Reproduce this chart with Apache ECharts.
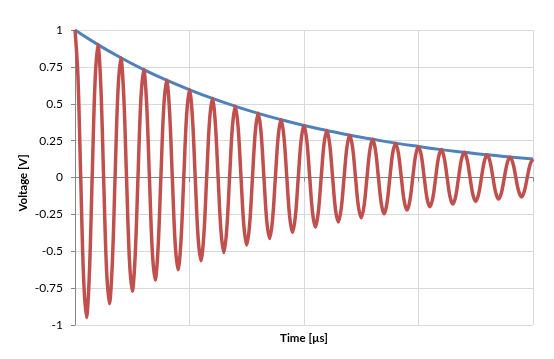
<!DOCTYPE html>
<html>
<head>
<meta charset="utf-8">
<script src="https://cdn.jsdelivr.net/npm/echarts@6/dist/echarts.min.js"></script>
<style>
html,body{margin:0;padding:0;background:#fff;}
#chart{width:554px;height:359px;}
</style>
</head>
<body>
<div id="chart"></div>
<script>
// Sample times (eighth of a period) and measured voltage of the damped oscillation
const time = [
  0,0.025,0.05,0.075,0.1,0.125,0.15,0.175,0.2,0.225,0.25,0.275,0.3,0.325,0.35,0.375,
  0.4,0.425,0.45,0.475,0.5,0.525,0.55,0.575,0.6,0.625,0.65,0.675,0.7,0.725,0.75,0.775,
  0.8,0.825,0.85,0.875,0.9,0.925,0.95,0.975,1,1.025,1.05,1.075,1.1,1.125,1.15,1.175,
  1.2,1.225,1.25,1.275,1.3,1.325,1.35,1.375,1.4,1.425,1.45,1.475,1.5,1.525,1.55,1.575,
  1.6,1.625,1.65,1.675,1.7,1.725,1.75,1.775,1.8,1.825,1.85,1.875,1.9,1.925,1.95,1.975,
  2,2.025,2.05,2.075,2.1,2.125,2.15,2.175,2.2,2.225,2.25,2.275,2.3,2.325,2.35,2.375,
  2.4,2.425,2.45,2.475,2.5,2.525,2.55,2.575,2.6,2.625,2.65,2.675,2.7,2.725,2.75,2.775,
  2.8,2.825,2.85,2.875,2.9,2.925,2.95,2.975,3,3.025,3.05,3.075,3.1,3.125,3.15,3.175,
  3.2,3.225,3.25,3.275,3.3,3.325,3.35,3.375,3.4,3.425,3.45,3.475,3.5,3.525,3.55,3.575,
  3.6,3.625,3.65,3.675,3.7,3.725,3.75,3.775,3.8,3.825,3.85,3.875,3.9,3.925,3.95,3.975,4];
const voltage = [
  1,0.698,0,-0.680,-0.949,-0.663,0,0.646,
  0.901,0.629,0,-0.613,-0.856,-0.597,0,0.582,
  0.812,0.567,0,-0.552,-0.771,-0.538,0,0.524,
  0.732,0.511,0,-0.498,-0.695,-0.485,0,0.473,
  0.660,0.460,0,-0.449,-0.626,-0.437,0,0.426,
  0.595,0.415,0,-0.404,-0.564,-0.394,0,0.384,
  0.536,0.374,0,-0.364,-0.509,-0.355,0,0.346,
  0.483,0.337,0,-0.328,-0.458,-0.320,0,0.312,
  0.435,0.304,0,-0.296,-0.413,-0.288,0,0.281,
  0.392,0.274,0,-0.267,-0.372,-0.260,0,0.253,
  0.353,0.247,0,-0.240,-0.336,-0.234,0,0.228,
  0.319,0.222,0,-0.217,-0.302,-0.211,0,0.206,
  0.287,0.200,0,-0.195,-0.273,-0.190,0,0.185,
  0.259,0.181,0,-0.176,-0.246,-0.172,0,0.167,
  0.233,0.163,0,-0.159,-0.221,-0.155,0,0.151,
  0.210,0.147,0,-0.143,-0.199,-0.139,0,0.136,
  0.189,0.132,0,-0.129,-0.180,-0.126,0,0.122,
  0.171,0.119,0,-0.116,-0.162,-0.113,0,0.110,
  0.154,0.107,0,-0.105,-0.146,-0.102,0,0.099,
  0.139,0.097,0,-0.094,-0.132,-0.092,0,0.090,
  0.125];
// Envelope
const envTime = [0,0.2,0.4,0.6,0.8,1,1.2,1.4,1.6,1.8,2,2.2,2.4,2.6,2.8,3,3.2,3.4,3.6,3.8,4];
const envelope = [1,0.901,0.812,0.732,0.660,0.595,0.536,0.483,0.435,0.392,0.353,0.319,0.287,0.259,0.233,0.210,0.189,0.171,0.154,0.139,0.125];
const yTicks = [-1,-0.75,-0.5,-0.25,0,0.25,0.5,0.75,1];

const chart = echarts.init(document.getElementById('chart'), null, {renderer:'canvas'});
const font = 'Lato';
const gridColors = yTicks.map(v => v === 0 ? '#868686' : '#D9D9D9');
chart.setOption({
  animation:false,
  backgroundColor:'#fff',
  grid:{left:75,right:21,top:30,bottom:34},
  xAxis:[{
    type:'value', min:0, max:4, interval:1, position:'bottom',
    axisLine:{onZero:false, show:false},
    axisTick:{show:false},
    axisLabel:{show:false},
    splitLine:{show:true, lineStyle:{color:'#D9D9D9', width:1}},
    name:'Time [µs]', nameLocation:'middle', nameGap:7,
    nameTextStyle:{fontFamily:font, fontWeight:'bold', fontSize:11.5, color:'#000'}
  },{
    type:'value', min:0, max:4, interval:1, position:'bottom',
    axisLine:{onZero:true, show:true, lineStyle:{color:'#868686', width:1}},
    axisTick:{show:true, length:4, lineStyle:{color:'#868686'}},
    axisLabel:{show:false},
    splitLine:{show:false}
  }],
  yAxis:{
    type:'value', min:-1, max:1, interval:0.25,
    axisLine:{show:true, lineStyle:{color:'#868686', width:1}},
    axisTick:{show:true, length:4, lineStyle:{color:'#868686'}},
    axisLabel:{fontFamily:font, fontSize:12, color:'#000', margin:12,
      formatter: v => String(v)},
    splitLine:{show:true, lineStyle:{color:gridColors, width:1}},
    name:'Voltage [V]', nameLocation:'middle', nameGap:46, nameRotate:90,
    nameMoveOverlap:false,
    nameTextStyle:{fontFamily:font, fontWeight:'bold', fontSize:11.5, color:'#000', padding:[0,11,0,0]}
  },
  series:[{
    type:'line', xAxisIndex:0,
    data: envTime.map((t,i)=>[t, envelope[i]]),
    smooth:true, showSymbol:false,
    lineStyle:{color:'#4F81BD', width:3}
  },{
    type:'line', xAxisIndex:0,
    data: time.map((t,i)=>[t, voltage[i]]),
    smooth:0.35, showSymbol:false,
    lineStyle:{color:'#C0504D', width:3.5}
  }]
});
</script>
</body>
</html>
